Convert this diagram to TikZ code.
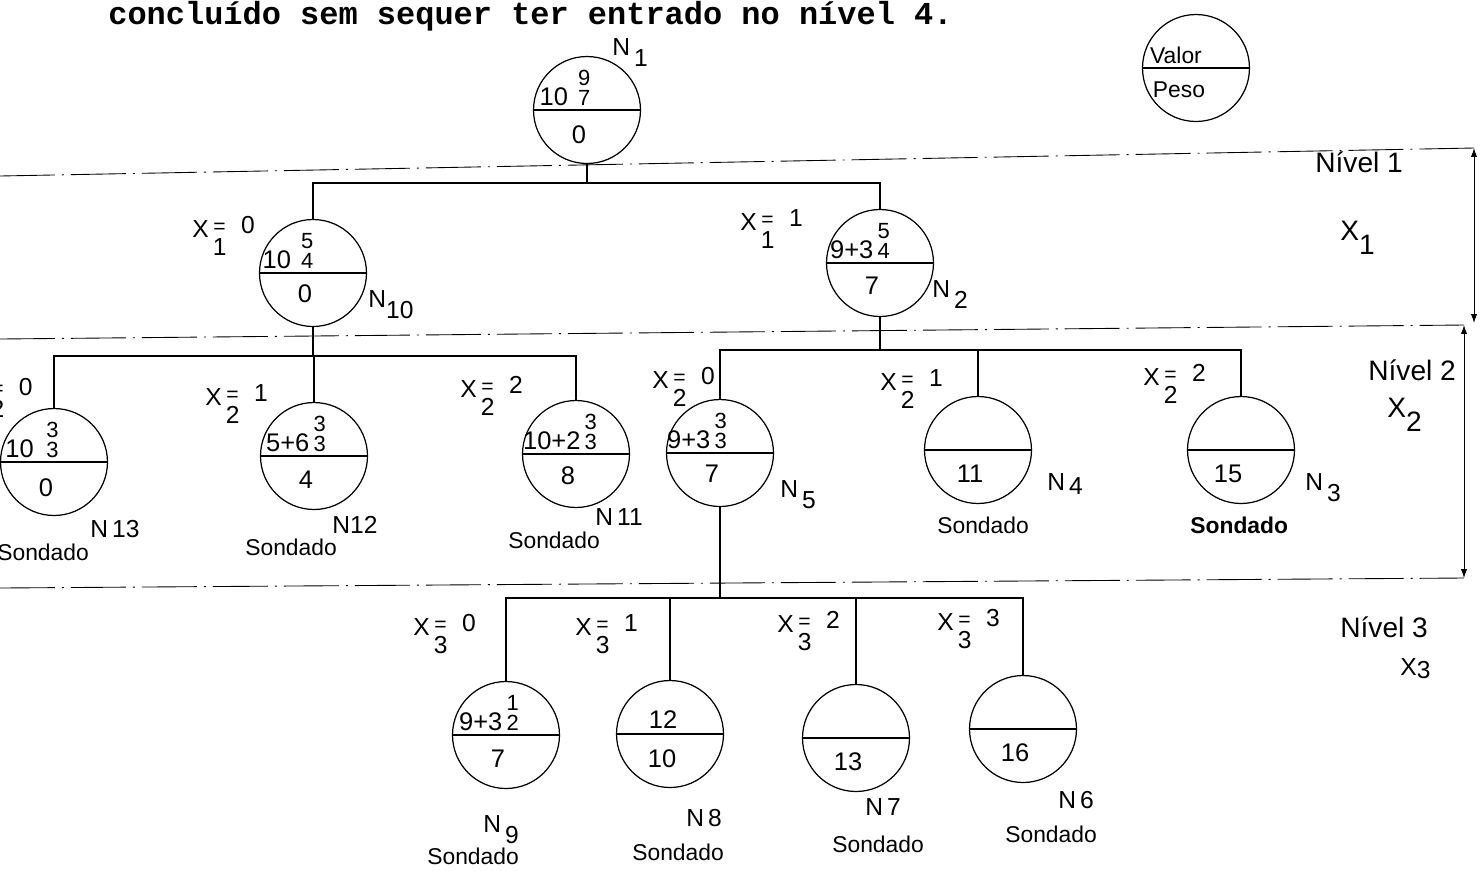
\documentclass[tikz,border=0pt]{standalone}
\usepackage{fontspec}
\setmainfont{Liberation Sans}
\newfontfamily\titulo{Liberation Mono}
\usetikzlibrary{arrows.meta,calc,positioning}

\newcommand{\pilha}[2]{{\fontsize{12.5}{12.5}\selectfont\shortstack{#1\\#2}}}
\newcommand{\xs}[2]{X\,\makebox[0.55em]{\raisebox{-0.75em}{#1}}\hspace{-0.55em}\makebox[0.55em]{\raisebox{0.15em}{\fontsize{12}{12}\selectfont=}}\hspace{0.6em}\raisebox{0.15em}{#2}}

\begin{document}
\begin{tikzpicture}[
    x=0.02cm, y=-0.02cm,
    no/.style={circle, draw, line width=0.7pt, minimum size=2.14cm, inner sep=0pt,
        path picture={\draw[line width=0.7pt] (path picture bounding box.west) -- (path picture bounding box.east);}},
    cima/.style={inner sep=1pt, font=\fontsize{14.5}{14.5}\selectfont},
    baixo/.style={inner sep=1pt, xshift=-0.16cm, font=\fontsize{14.5}{14.5}\selectfont},
    nome/.style={anchor=base west, inner sep=0pt, font=\fontsize{14}{14}\selectfont},
    sond/.style={anchor=base west, inner sep=0pt, font=\fontsize{13}{13}\selectfont},
    ramo/.style={anchor=base west, inner sep=0pt, font=\fontsize{14}{14}\selectfont},
    nivtxt/.style={anchor=base west, inner sep=0pt, font=\fontsize{16}{16}\selectfont},
    nivel/.style={line width=0.5pt, dash pattern=on 1.1cm off 0.14cm on 0.04cm off 0.14cm},
    liga/.style={line width=0.7pt},
    cota/.style={line width=0.5pt, {Latex[length=5pt,width=3.5pt]}-{Latex[length=5pt,width=3.5pt]}}
]
    \useasboundingbox (0,0) rectangle (1481,870);

    % titulo (cortado no topo da pagina)
    \node (tit) [anchor=base west, inner sep=0pt, font=\titulo\bfseries\fontsize{18.2}{18.2}\selectfont] at (108,24) {concluído sem sequer ter entrado no nível 4.};

    % legenda
    \node (leg) [no] at (1196,68) {};
    \node (legv) [cima, above=1pt of leg.center, xshift=-0.4cm, font=\fontsize{13}{13}\selectfont] {Valor};
    \node (legp) [baixo, below=0.24cm of leg.center, xshift=-0.18cm, font=\fontsize{13}{13}\selectfont] {Peso};

    % niveis
    \coordinate (c1) at (1474,148);
    \coordinate (c2) at (1474,323);
    \coordinate (c3) at (1464,325);
    \coordinate (c4) at (1464,578);
    \draw [nivel] (0,176) -- (c1);
    \draw [nivel] (0,339) -- (c3);
    \draw [nivel] (0,588) -- (c4);
    \draw [cota] (c1) -- (c2);
    \draw [cota] (c3) -- (c4);

    \node (l1) [nivtxt] at (1315,172) {Nível 1};
    \node (l1x) [nivtxt] at (1340,240) {X\raisebox{-0.5em}{1}};
    \node (l2) [nivtxt] at (1368,380) {Nível 2};
    \node (l2x) [nivtxt] at (1387,417) {X\raisebox{-0.5em}{2}};
    \node (l3) [nivtxt] at (1340,637) {Nível 3};
    \node (l3x) [nivtxt, font=\fontsize{14}{14}\selectfont] at (1400,675) {X\raisebox{-0.15em}{3}};

    % nos da arvore
    \node (n1) [no] at (587,110) {};
    \node (n10) [no] at (313,273) {};
    \node (n2) [no] at (880,263) {};
    \node (n13) [no] at (54,462) {};
    \node (n12) [no] at (314,456) {};
    \node (n11) [no] at (576,454) {};
    \node (n5) [no] at (720,453) {};
    \node (n4) [no] at (978,450) {};
    \node (n3) [no] at (1241,450) {};
    \node (n9) [no] at (506,735) {};
    \node (n8) [no] at (670,734) {};
    \node (n7) [no] at (856,738) {};
    \node (n6) [no] at (1023,729) {};

    % valor (metade de cima) e peso (metade de baixo)
    \node (n1v) [cima, above=1pt of n1.center, xshift=-0.44cm] {10\hspace{0.4em}\pilha{9}{7}};
    \node (n1p) [baixo, below=0.28cm of n1.center] {0};
    \node (n10v) [cima, above=1pt of n10.center, xshift=-0.5cm] {10\hspace{0.4em}\pilha{5}{4}};
    \node (n10p) [baixo, below=0.2cm of n10.center] {0};
    \node (n2v) [cima, above=1pt of n2.center, xshift=-0.4cm] {9+3\,\pilha{5}{4}};
    \node (n2p) [baixo, below=0.24cm of n2.center] {7};
    \node (n13v) [cima, above=1pt of n13.center, xshift=-0.44cm] {10\hspace{0.5em}\pilha{3}{3}};
    \node (n13p) [baixo, below=0.3cm of n13.center] {0};
    \node (n12v) [cima, above=1pt of n12.center, xshift=-0.36cm] {5+6\,\pilha{3}{3}};
    \node (n12p) [baixo, below=0.26cm of n12.center] {4};
    \node (n11v) [cima, above=1pt of n11.center, xshift=-0.32cm] {10+2\,\pilha{3}{3}};
    \node (n11p) [baixo, below=0.22cm of n11.center] {8};
    \node (n5v) [cima, above=1pt of n5.center, xshift=-0.46cm] {9+3\,\pilha{3}{3}};
    \node (n5p) [baixo, below=0.2cm of n5.center] {7};
    \node (n4p) [baixo, below=0.26cm of n4.center] {11};
    \node (n3p) [baixo, below=0.26cm of n3.center, xshift=-0.1cm] {15};
    \node (n9v) [cima, above=1pt of n9.center, xshift=-0.34cm] {9+3\,\pilha{1}{2}};
    \node (n9p) [baixo, below=0.26cm of n9.center] {7};
    \node (n8v) [cima, above=2pt of n8.center, xshift=-0.14cm] {12};
    \node (n8p) [baixo, below=0.28cm of n8.center] {10};
    \node (n7p) [baixo, below=0.26cm of n7.center] {13};
    \node (n6p) [baixo, below=0.26cm of n6.center] {16};

    % ligacoes
    \coordinate (b1) at (n1.south |- 0,183);
    \coordinate (b10) at (n10.south |- 0,356);
    \coordinate (b2) at (n2.south |- 0,350);
    \coordinate (b5) at (n5.south |- 0,598);
    \draw [liga] (n1.south) -- (b1) -| (n10.north);
    \draw [liga] (b1) -| (n2.north);
    \draw [liga] (n10.south) -- (b10) -| (n13.north);
    \draw [liga] (b10) -| (n12.north);
    \draw [liga] (b10) -| (n11.north);
    \draw [liga] (n2.south) -- (b2) -| (n5.north);
    \draw [liga] (b2) -| (n4.north);
    \draw [liga] (b2) -| (n3.north);
    \draw [liga] (n5.south) -- (b5) -| (n9.north);
    \draw [liga] (b5) -| (n8.north);
    \draw [liga] (b5) -| (n7.north);
    \draw [liga] (b5) -| (n6.north);

    % rotulos dos ramos
    \node (x10) [ramo] at (192,237) {\xs{1}{0}};
    \node (x2) [ramo] at (740,230) {\xs{1}{1}};
    \node (x13) [ramo, anchor=base east] at (33,399) {\xs{2}{0}};
    \node (x12) [ramo] at (205,405) {\xs{2}{1}};
    \node (x11) [ramo] at (460,397) {\xs{2}{2}};
    \node (x5) [ramo] at (652,388) {\xs{2}{0}};
    \node (x4) [ramo] at (880,390) {\xs{2}{1}};
    \node (x3) [ramo] at (1143,385) {\xs{2}{2}};
    \node (x9) [ramo] at (413,635) {\xs{3}{0}};
    \node (x8) [ramo] at (575,635) {\xs{3}{1}};
    \node (x7) [ramo] at (777,632) {\xs{3}{2}};
    \node (x6) [ramo] at (937,630) {\xs{3}{3}};

    % nomes dos nos
    \node (r1) [nome] at (612,55) {N\,\raisebox{-0.45em}{1}};
    \node (r10) [nome] at (368,307) {N\raisebox{-0.45em}{10}};
    \node (r2) [nome] at (932,297) {N\,\raisebox{-0.45em}{2}};
    \node (r13) [nome] at (90,537) {N\,13};
    \node (r12) [nome] at (332,533) {N12};
    \node (r11) [nome] at (595,525) {N\,11};
    \node (r5) [nome] at (780,497) {N\,\raisebox{-0.45em}{5}};
    \node (r4) [nome] at (1047,490) {N\,\raisebox{-0.2em}{4}};
    \node (r3) [nome] at (1305,490) {N\,\raisebox{-0.45em}{3}};
    \node (r9) [nome] at (483,832) {N\,\raisebox{-0.45em}{9}};
    \node (r8) [nome] at (686,826) {N\,8};
    \node (r7) [nome] at (865,815) {N\,7};
    \node (r6) [nome] at (1058,808) {N\,6};

    % nos sondados
    \node (s13) [sond] at (-3,560) {Sondado};
    \node (s12) [sond] at (245,555) {Sondado};
    \node (s11) [sond] at (508,548) {Sondado};
    \node (s4) [sond] at (937,533) {Sondado};
    \node (s3) [sond, font=\bfseries\fontsize{13}{13}\selectfont] at (1190,533) {Sondado};
    \node (s9) [sond] at (427,864) {Sondado};
    \node (s8) [sond] at (632,860) {Sondado};
    \node (s7) [sond] at (832,852) {Sondado};
    \node (s6) [sond] at (1005,842) {Sondado};
\end{tikzpicture}
\end{document}
